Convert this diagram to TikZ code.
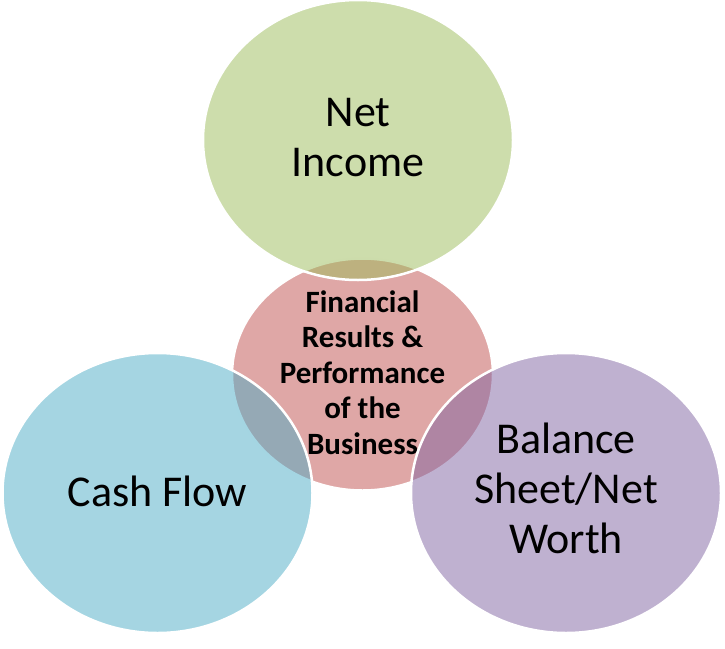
\documentclass[tikz,border=0pt]{standalone}
\usepackage{fontspec}
\setmainfont{Carlito}
\usetikzlibrary{shapes.geometric}
\definecolor{vgreen}{HTML}{9BBB59}
\definecolor{vpink}{HTML}{C0504D}
\definecolor{vblue}{HTML}{4BACC6}
\definecolor{vpurple}{HTML}{8064A2}
\tikzset{
  venn/.style={ellipse, inner sep=0pt, outer sep=0pt, draw=white, line width=2.5pt, fill opacity=0.5},
  bigvenn/.style={venn, minimum width=310pt, minimum height=280pt},
  bigtext/.style={align=center, anchor=base, inner sep=0pt, text=black, font=\fontsize{44}{50}\selectfont},
  midtext/.style={align=center, anchor=base, inner sep=0pt, text=black, font=\fontsize{31}{35.5}\selectfont\bfseries}
}
\begin{document}
\begin{tikzpicture}[x=1pt, y=-1pt]
\useasboundingbox (0,0) rectangle (725,648);
% centre circle and its text
\node[venn, fill=vpink, minimum width=261pt, minimum height=232pt] (mid) at (362.5,374.5) {};
\node[midtext] (midlabel) at (362.5,454) {Financial\\Results \&\\Performance\\of the\\Business};
% outer circles
\node[bigvenn, fill=vgreen] (top) at (358,140) {};
\node[bigvenn, fill=vblue] (left) at (157.5,493) {};
\node[bigvenn, fill=vpurple] (right) at (566,493) {};
% labels
\node[bigtext] (toplabel) at (358,176) {Net\\Income};
\node[bigtext] (leftlabel) at (157.5,506) {Cash Flow};
\node[bigtext] (rightlabel) at (566,553) {Balance\\Sheet/Net\\Worth};
\end{tikzpicture}
\end{document}
